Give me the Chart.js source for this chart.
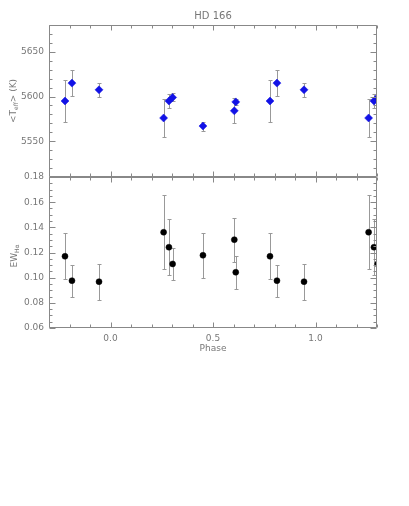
<!DOCTYPE html>
<html>
<head>
<meta charset="utf-8">
<script src="https://cdn.jsdelivr.net/npm/chart.js@4/dist/chart.umd.min.js"></script>
<style>
body { margin: 0; background: #fff; }
#wrap { position: relative; width: 409px; height: 506px; }
canvas { position: absolute; left: 0; top: 0; }
</style>
</head>
<body>
<div id="wrap">
  <canvas id="teff" width="409" height="506"></canvas>
  <canvas id="ew" width="409" height="506"></canvas>
</div>
<script>
// plotted phases (observations repeated one cycle either side)
var phase   = [-0.222, -0.188, -0.056, 0.259, 0.285, 0.303, 0.451, 0.604, 0.611, 0.778, 0.812, 0.944, 1.259, 1.285, 1.303];
var teff    = [5595, 5615, 5607.5, 5576, 5595, 5599, 5567, 5584, 5594, 5595, 5615, 5607.5, 5576, 5595, 5599];
var teffErr = [23, 14.6, 8, 21.7, 7.3, 4.5, 5, 13.8, 3.4, 23, 14.6, 8, 21.7, 7.3, 4.5];
var ew      = [0.117, 0.0976, 0.0968, 0.1361, 0.1242, 0.1109, 0.1178, 0.1302, 0.1043, 0.117, 0.0976, 0.0968, 0.1361, 0.1242, 0.1109];
var ewErr   = [0.0184, 0.0126, 0.0144, 0.0294, 0.0222, 0.013, 0.018, 0.0175, 0.0133, 0.0184, 0.0126, 0.0144, 0.0294, 0.0222, 0.013];

var phaseTicks = [0.0, 0.5, 1.0];
var teffTicks  = [5550, 5600, 5650];
var ewTicks    = [0.06, 0.08, 0.10, 0.12, 0.14, 0.16, 0.18];

var GREY_TEXT = '#777';
var GREY_AXIS = '#888';
var FONT = 'DejaVu Sans';

function points(ys, errs) {
    return phase.map(function (p, i) { return { x: p, y: ys[i], err: errs[i] }; });
}

function near(list, v) {
    return list.some(function (t) { return Math.abs(t - v) < 1e-6; });
}

var errorBars = {
    id: 'errorBars',
    beforeDatasetsDraw: function (chart) {
        var ctx = chart.ctx, a = chart.chartArea;
        var xs = chart.scales.x, ys = chart.scales.y;
        ctx.save();
        ctx.beginPath();
        ctx.rect(a.left, a.top, a.right - a.left, a.bottom - a.top);
        ctx.clip();
        ctx.strokeStyle = '#999';
        ctx.lineWidth = 1;
        chart.data.datasets[0].data.forEach(function (p) {
            var x = Math.round(xs.getPixelForValue(p.x)) + 0.5;
            var y1 = Math.round(ys.getPixelForValue(p.y - p.err)) + 0.5;
            var y2 = Math.round(ys.getPixelForValue(p.y + p.err)) + 0.5;
            ctx.beginPath();
            ctx.moveTo(x, y1); ctx.lineTo(x, y2);
            ctx.moveTo(x - 2, y1); ctx.lineTo(x + 2, y1);
            ctx.moveTo(x - 2, y2); ctx.lineTo(x + 2, y2);
            ctx.stroke();
        });
        ctx.restore();
    }
};

// box round the plot with inward ticks on all four sides
var frame = {
    id: 'frame',
    afterDraw: function (chart, args, o) {
        var ctx = chart.ctx, a = chart.chartArea;
        var xs = chart.scales.x, ys = chart.scales.y;
        var L = Math.round(a.left) + 0.5, R = Math.round(a.right) - 0.5;
        var T = Math.round(a.top) + 0.5, B = Math.round(a.bottom) - 0.5;
        ctx.save();
        ctx.strokeStyle = GREY_AXIS;
        ctx.lineWidth = 1;
        ctx.beginPath();
        ctx.rect(L, T, R - L, B - T);
        var v, px, len, n;
        for (n = 0; ; n++) {
            v = xs.min + n * o.minorX;
            if (v > xs.max + 1e-9) break;
            px = Math.round(xs.getPixelForValue(v)) + 0.5;
            len = near(phaseTicks, v) ? 5 : 3;
            ctx.moveTo(px, B); ctx.lineTo(px, B - len);
            ctx.moveTo(px, T); ctx.lineTo(px, T + len);
        }
        for (n = 0; ; n++) {
            v = ys.min + n * o.minorY;
            if (v > ys.max + 1e-9) break;
            px = Math.round(ys.getPixelForValue(v)) + 0.5;
            len = near(o.majorY, v) ? 6 : 3;
            ctx.moveTo(L, px); ctx.lineTo(L + len, px);
            ctx.moveTo(R, px); ctx.lineTo(R - len, px);
        }
        ctx.stroke();
        ctx.restore();
    }
};

// rotated y title with a subscript part
var yTitle = {
    id: 'yTitle',
    afterDraw: function (chart, args, o) {
        var ctx = chart.ctx;
        var big = '9px "' + FONT + '"', small = '6px "' + FONT + '"';
        ctx.save();
        var w = 0;
        o.parts.forEach(function (p) {
            ctx.font = p.sub ? small : big;
            p.w = ctx.measureText(p.t).width;
            w += p.w;
        });
        ctx.translate(o.x, o.y);
        ctx.rotate(-Math.PI / 2);
        ctx.fillStyle = GREY_TEXT;
        ctx.textBaseline = 'middle';
        var cx = -w / 2;
        o.parts.forEach(function (p) {
            ctx.font = p.sub ? small : big;
            ctx.fillText(p.t, cx, p.sub ? 2.5 : 0);
            cx += p.w;
        });
        ctx.restore();
    }
};

function yAxis(min, max, ticks, fmt) {
    return {
        type: 'linear',
        position: 'left',
        min: min,
        max: max,
        grid: { display: false, drawTicks: false },
        border: { display: false },
        afterFit: function (s) { s.width = 49; },
        afterBuildTicks: function (s) { s.ticks = ticks.map(function (v) { return { value: v }; }); },
        ticks: {
            padding: 5,
            color: GREY_TEXT,
            font: { family: FONT, size: 9 },
            callback: fmt
        }
    };
}

function xAxis(show) {
    return {
        type: 'linear',
        min: -0.3,
        max: 1.3,
        bounds: 'data',
        display: show,
        grid: { display: false, drawTicks: false },
        border: { display: false },
        afterFit: function (s) { s.height = show ? 26 : 0; },
        afterBuildTicks: function (s) { s.ticks = phaseTicks.map(function (v) { return { value: v }; }); },
        ticks: {
            padding: 5,
            maxRotation: 0,
            color: GREY_TEXT,
            font: { family: FONT, size: 9 },
            callback: function (v) { return v.toFixed(1); }
        },
        title: {
            display: true,
            text: 'Phase',
            color: GREY_TEXT,
            font: { family: FONT, size: 9 },
            padding: 0
        }
    };
}

new Chart(document.getElementById('teff').getContext('2d'), {
    type: 'scatter',
    data: {
        datasets: [{
            data: points(teff, teffErr),
            pointStyle: 'rectRot',
            pointRadius: 4,
            backgroundColor: '#1212e6',
            borderColor: '#1212e6',
            borderWidth: 0.5,
            clip: 0
        }]
    },
    options: {
        responsive: false,
        animation: false,
        layout: { padding: { left: 0, right: 32, top: 0, bottom: 329 } },
        scales: {
            x: xAxis(false),
            y: yAxis(5510, 5680, teffTicks, function (v) { return String(v); })
        },
        plugins: {
            legend: { display: false },
            tooltip: { enabled: false },
            title: {
                display: true,
                text: 'HD 166',
                fullSize: false,
                color: GREY_TEXT,
                font: { family: FONT, size: 10, weight: 'normal' },
                padding: { top: 10, bottom: 3 }
            },
            frame: { minorX: 0.1, minorY: 10, majorY: teffTicks },
            yTitle: { x: 14, y: 101, parts: [{ t: '<T' }, { t: 'eff', sub: true }, { t: '> (K)' }] }
        }
    },
    plugins: [errorBars, frame, yTitle]
});

new Chart(document.getElementById('ew').getContext('2d'), {
    type: 'scatter',
    data: {
        datasets: [{
            data: points(ew, ewErr),
            pointStyle: 'circle',
            pointRadius: 3,
            backgroundColor: '#000',
            borderColor: '#000',
            borderWidth: 0.5,
            clip: 0
        }]
    },
    options: {
        responsive: false,
        animation: false,
        layout: { padding: { left: 0, right: 32, top: 177, bottom: 152 } },
        scales: {
            x: xAxis(true),
            y: yAxis(0.06, 0.18, ewTicks, function (v) { return v.toFixed(2); })
        },
        plugins: {
            legend: { display: false },
            tooltip: { enabled: false },
            frame: { minorX: 0.1, minorY: 0.005, majorY: ewTicks },
            yTitle: { x: 15, y: 256, parts: [{ t: 'EW' }, { t: 'Hα', sub: true }] }
        }
    },
    plugins: [errorBars, frame, yTitle]
});
</script>
</body>
</html>
